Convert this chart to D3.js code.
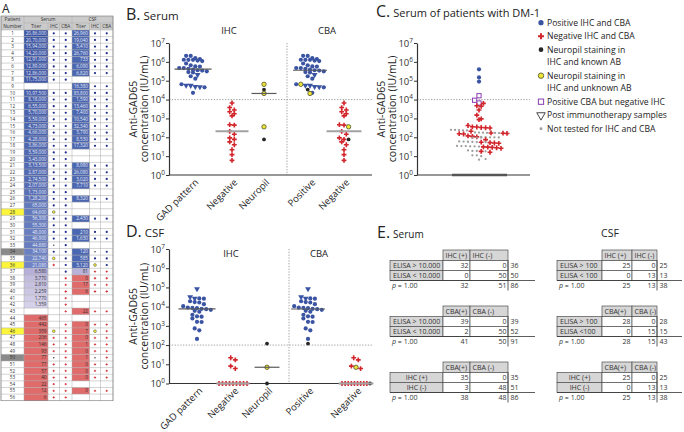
<!DOCTYPE html>
<html><head><meta charset="utf-8">
<script src="https://cdn.jsdelivr.net/npm/d3@7"></script>
<style>
body{margin:0;background:#fff;}
svg{display:block;}
</style></head><body>
<svg id="chart" width="684" height="432"></svg>
<script>
// ================= DATA =================
// Panel A table
const patientNumbers = [1,2,3,4,5,6,7,8,9,10,11,12,13,14,15,16,17,18,19,20,21,22,23,24,25,26,27,28,29,30,31,32,33,34,35,36,37,38,39,40,41,42,43,44,45,46,47,48,49,50,51,52,53,54,55,56];
const serumTiter = [2086000,2070000,1594000,1420000,1291000,1289000,1286000,1175000,null,1097500,818000,655000,570000,559000,473000,466000,428000,386000,359000,343000,313500,287000,274500,207000,173000,128200,65000,64600,56300,55300,48000,46900,44880,34100,22740,21080,6580,3770,2810,2259,1770,1359,null,465,442,359,206,146,93,77,77,57,40,22,12,6];
const csfTiter = [26960,19040,5410,26760,733,6090,6820,null,16380,83800,1590,13460,7400,10540,32340,3790,8530,17320,null,null,8980,26080,3020,7710,null,8320,null,null,2430,null,210,1630,null,120,585,3120,81,0,17,6,null,null,22,null,0,7,0,1,0,1,0,0,0,null,0,null];
// status codes: p positive, n negative, y neuropil unknown AB, k neuropil known AB, - not done
const serumIHC = "pppppppp-ppppppppppppppppppyppppkpyn---------ynnnknnnnnn".split("");
const serumCBA = "pppppppp-ppppppppppppppppppppppppppppnnnnnn-nnnnnnnnnnnnn".split("");
const csfIHC   = "ppppppp-pppppppppp--pppp-p--p-pp-kpynnnn--n-nynnnknnn-n-".split("");
const csfCBA   = "ppppppp-pppppppppp--pppp-p--p-pp-pppnnnn--n-nnnnnnnnn-n-".split("");
const rowsYellow = [28,36,46];
const rowsGray = [34,50];

// Panel B (serum)
const serumGadPattern = [2086000,2070000,1594000,1420000,1291000,1289000,1286000,1175000,1097500,818000,655000,570000,559000,473000,466000,428000,386000,359000,343000,313500,287000,274500,207000,173000,128200,65000,56300,55300,48000,46900,44880,22740];
const serumPostImmuno = [207000,56300,55300,48000,46900];
const serumNegative = [6580,3770,2810,2259,1770,1359,465,442,206,146,93,77,57,40,22,12,6];
const serumNeuropilUnknown = [64600,21080,359];
const serumNeuropilKnown = [34100,77];
const serumThreshold = 10000;

// Panel C (serum of DM-1 patients)
const dm1Positive = [400000,150000,90000];
const dm1CbaOnly = [16000,9200,6600];
const dm1Negative = [6300,4700,4400,2800,1500,950,870,420,360,350,330,320,310,210,170,165,160,155,150,118,112,105,75,55,52,50,48,31,30,29,28,26,18,16];
const dm1NotTested = [250,245,240,235,230,180,178,175,172,170,168,104,102,100,99,98,97,96,95,60,59,58,57,56,55,35,34,34,33,33,32,20,19,19,18,11,11,10,7,6.5];

// Panel D (CSF)
const csfGadPattern = [83800,32340,26960,26760,26080,19040,17320,16380,13460,10540,8980,8530,8320,7710,7400,6820,6090,5410,3790,3120,3020,2430,1630,1590,733,585,210];
const csfPostImmuno = [83800,32340,26960];
const csfNegative = [22,17,8,6,1,0,0,0,0,0,0,0,0];
const csfNeuropilUnknown = [7];
const csfNeuropilKnown = [120,1];
const csfThreshold = 100;

// Axis / category labels
const decades = [1,10,100,1000,10000,100000,1000000,10000000];
const categoryKeys = ["gad","ihcNeg","neuro","cbaPos","cbaNeg"];
const categoryLabels = ["GAD pattern","Negative","Neuropil","Positive","Negative"];

// Legend
const legendTypes = ["blue","red","black","yellow","purple","triOpen","gray"];
const legendLabels = [["Positive IHC and CBA"],["Negative IHC and CBA"],["Neuropil staining in","IHC and known AB"],["Neuropil staining in","IHC and unknown AB"],["Positive CBA but negative IHC"],["Post immunotherapy samples"],["Not tested for IHC and CBA"]];

// Panel E tables
const eSerumColHeads = [["IHC (+)","IHC (-)"],["CBA(+)","CBA (-)"],["CBA(+)","CBA (-)"]];
const eSerumRowHeads = [["ELISA > 10.000","ELISA < 10.000"],["ELISA > 10.000","ELISA < 10.000"],["IHC (+)","IHC (-)"]];
const eSerumCounts = [[[32,0],[0,50]],[[39,0],[2,50]],[[35,0],[3,48]]];
const eSerumRowTotals = [[36,50],[39,52],[35,51]];
const eSerumColTotals = [[32,51],[41,50],[38,48]];
const eSerumGrand = [86,91,86];
const eCsfColHeads = [["IHC (+)","IHC (-)"],["CBA(+)","CBA (-)"],["CBA(+)","CBA (-)"]];
const eCsfRowHeads = [["ELISA > 100","ELISA < 100"],["ELISA > 100","ELISA <100"],["IHC (+)","IHC (-)"]];
const eCsfCounts = [[[25,0],[0,13]],[[28,0],[0,15]],[[25,0],[0,13]]];
const eCsfRowTotals = [[25,13],[28,15],[25,13]];
const eCsfColTotals = [[25,13],[28,15],[25,13]];
const eCsfGrand = [38,43,38];
const ePValues = ["1.00","1.00","1.00"];

// ================= DRAWING =================
const FONT = '"Open Sans", sans-serif';
const BLUE = '#3a54a3', RED = '#d1262c', YEL = '#ece636', BLK = '#262626', PUR = '#8b3db3', GRY = '#9d9d9d';
const TXT = '#222';
const svg = d3.select('#chart').attr('font-family', FONT);

function mark(g, t, x, y, s) {
  s = s || 1;
  if (t === 'blue') g.append('circle').attr('cx', x).attr('cy', y).attr('r', 2.1 * s).attr('fill', BLUE);
  else if (t === 'tri') g.append('path').attr('d', d3.symbol(d3.symbolTriangle, 15 * s * s)()).attr('transform', `translate(${x},${y}) rotate(180)`).attr('fill', BLUE);
  else if (t === 'triOpen') g.append('path').attr('d', d3.symbol(d3.symbolTriangle, 20 * s * s)()).attr('transform', `translate(${x},${y}) rotate(180)`).attr('fill', '#fff').attr('stroke', '#333').attr('stroke-width', 0.9);
  else if (t === 'red') g.append('path').attr('d', d3.symbol(d3.symbolCross, 13 * s * s)()).attr('transform', `translate(${x},${y})`).attr('fill', RED);
  else if (t === 'yellow') g.append('circle').attr('cx', x).attr('cy', y).attr('r', 2.2 * s).attr('fill', YEL).attr('stroke', '#4a4628').attr('stroke-width', 0.75);
  else if (t === 'black') g.append('circle').attr('cx', x).attr('cy', y).attr('r', 1.9 * s).attr('fill', BLK);
  else if (t === 'purple') g.append('rect').attr('x', x - 2.1 * s).attr('y', y - 2.1 * s).attr('width', 4.2 * s).attr('height', 4.2 * s).attr('fill', '#fff').attr('stroke', PUR).attr('stroke-width', 1);
  else if (t === 'gray') g.append('circle').attr('cx', x).attr('cy', y).attr('r', 1.15 * s).attr('fill', GRY);
}

// Prism-like scatter layout: bin by vertical position, spread horizontally
function swarm(items, y, cx, binH, sp, maxW) {
  const pts = items.map(d => Object.assign({}, d, { py: y(Math.max(d.v, 1)) })).sort((a, b) => a.py - b.py);
  const bins = []; let cur = null;
  pts.forEach(p => { if (!cur || p.py - cur.y0 > binH) { cur = { y0: p.py, list: [] }; bins.push(cur); } cur.list.push(p); });
  bins.forEach(b => {
    const n = b.list.length; const s = n > 1 ? Math.min(sp, maxW / (n - 1)) : 0;
    b.list.forEach((p, i) => { p.px = cx + (i - (n - 1) / 2) * s; });
  });
  return pts;
}

function logAxis(g, y, axisX, xEnd) {
  const ax = d3.axisLeft(y).tickValues(decades).tickSize(3).tickSizeOuter(0).tickFormat(() => '');
  const a = g.append('g').attr('transform', `translate(${axisX},0)`).call(ax);
  a.select('.domain').attr('stroke', '#333').attr('stroke-width', 1.2);
  a.selectAll('.tick line').attr('stroke', '#333').attr('stroke-width', 1);
  a.selectAll('.tick').append('text').attr('x', -4).attr('dy', '0.35em').attr('text-anchor', 'end')
    .attr('fill', '#333').attr('font-size', 9.5).attr('font-family', FONT)
    .each(function (d) {
      const t = d3.select(this);
      t.append('tspan').text('10');
      t.append('tspan').attr('dy', -4).attr('font-size', 6.5).text(Math.round(Math.log10(d)));
    });
  g.append('line').attr('x1', axisX).attr('x2', xEnd).attr('y1', y(1)).attr('y2', y(1)).attr('stroke', '#333').attr('stroke-width', 1.2);
}

function yTitle(g, xA, xB, yc) {
  g.append('text').attr('transform', `translate(${xA},${yc}) rotate(-90)`).attr('text-anchor', 'middle').attr('font-size', 10.5).attr('fill', TXT).text('Anti-GAD65');
  g.append('text').attr('transform', `translate(${xB},${yc}) rotate(-90)`).attr('text-anchor', 'middle').attr('font-size', 10.5).attr('fill', TXT).text('concentration (IU/mL)');
}

function dotted(g, x1, y1, x2, y2) {
  g.append('line').attr('x1', x1).attr('y1', y1).attr('x2', x2).attr('y2', y2)
    .attr('stroke', '#8a8a8a').attr('stroke-width', 0.8).attr('stroke-dasharray', '1.3,1.5');
}

function scatterPanel(cfg) {
  const g = svg.append('g');
  const y = d3.scaleLog().domain([1, 1e7]).range([cfg.yBottom, cfg.yTop]);
  const x = d3.scaleOrdinal().domain(categoryKeys).range(cfg.xs);
  dotted(g, cfg.axisX, y(cfg.threshold), cfg.xEnd, y(cfg.threshold));
  dotted(g, cfg.divX, cfg.yTop, cfg.divX, cfg.yBottom);
  logAxis(g, y, cfg.axisX, cfg.xEnd);
  yTitle(g, cfg.axisX - 32, cfg.axisX - 21, (cfg.yTop + cfg.yBottom) / 2);
  g.append('text').attr('x', cfg.ihcX).attr('y', cfg.groupY).attr('text-anchor', 'middle').attr('font-size', 9.5).attr('fill', TXT).text('IHC');
  g.append('text').attr('x', cfg.cbaX).attr('y', cfg.groupY).attr('text-anchor', 'middle').attr('font-size', 9.5).attr('fill', TXT).text('CBA');
  categoryKeys.forEach((k, i) => {
    g.append('text').attr('transform', `translate(${x(k) + 6},${cfg.yBottom + 8}) rotate(-45)`)
      .attr('text-anchor', 'end').attr('font-size', 9.5).attr('fill', TXT).text(categoryLabels[i]);
  });
  const pts = g.append('g');
  cfg.groups.forEach(gr => {
    const laid = swarm(gr.items, y, x(gr.key), 3.7, 4.6, 28);
    laid.forEach(p => mark(pts, p.t, p.px, p.py));
  });
  cfg.groups.forEach(gr => {
    const med = d3.median(gr.items, d => Math.max(d.v, 1));
    const light = gr.med === 'light';
    g.append('line').attr('x1', x(gr.key) - gr.hw).attr('x2', x(gr.key) + gr.hw).attr('y1', y(med)).attr('y2', y(med))
      .attr('stroke', light ? '#a3a3a3' : '#5a5a5a').attr('stroke-width', light ? 2 : 1.2);
  });
}

function title(x, yb, big, small, smallSize) {
  const t = svg.append('text').attr('x', x).attr('y', yb).attr('fill', TXT);
  t.append('tspan').attr('font-size', 16).text(big);
  t.append('tspan').attr('font-size', smallSize || 11.5).attr('dx', 3).text(small);
}

function fmtIN(v) {
  const s = String(Math.round(v));
  if (s.length <= 3) return s;
  const last3 = s.slice(-3); let rest = s.slice(0, -3); const parts = [];
  while (rest.length > 2) { parts.unshift(rest.slice(-2)); rest = rest.slice(0, -2); }
  if (rest) parts.unshift(rest);
  return parts.join(',') + ',' + last3;
}

// ---------- Panel A ----------
(function () {
  const g = svg.append('g');
  g.append('text').attr('x', 2).attr('y', 13).attr('font-size', 12).attr('fill', TXT).text('A');
  const ce = [1, 24, 48, 59.5, 72, 89.5, 100.5, 113];
  const hTop = 16, hMid = 23, dTop = 30, rh = 6.62;
  const fs = 4.6;
  const hdrFill = '#cbcbcb';
  g.append('rect').attr('x', ce[0]).attr('y', hTop).attr('width', ce[7] - ce[0]).attr('height', dTop - hTop).attr('fill', hdrFill);
  const serumBlue = d3.scaleLog().domain([20000, 2100000]).range(['#7186c6', '#3b55a4']).clamp(true);
  const serumLav = d3.scaleLog().domain([1300, 6600]).range(['#d6d2ea', '#b6afd8']).clamp(true);
  const cellFill = (row, kind) => {
    if (kind === 'serum') return row <= 36 ? serumBlue(serumTiter[row - 1]) : row <= 42 ? serumLav(serumTiter[row - 1]) : '#df6b6b';
    return row <= 36 ? '#4c67b1' : row <= 37 ? '#b9b3da' : '#df6b6b';
  };
  patientNumbers.forEach((pn, i) => {
    const y0 = dTop + i * rh, yc = y0 + rh / 2;
    if (rowsYellow.includes(pn)) g.append('rect').attr('x', ce[0]).attr('y', y0).attr('width', ce[1] - ce[0]).attr('height', rh).attr('fill', '#fbf53c');
    if (rowsGray.includes(pn)) g.append('rect').attr('x', ce[0]).attr('y', y0).attr('width', ce[1] - ce[0]).attr('height', rh).attr('fill', '#8a8a8a');
    [[serumTiter, 1, 'serum'], [csfTiter, 4, 'csf']].forEach(([arr, c, kind]) => {
      const v = arr[i];
      if (v == null) return;
      const f = cellFill(pn, kind);
      g.append('rect').attr('x', ce[c]).attr('y', y0).attr('width', ce[c + 1] - ce[c]).attr('height', rh).attr('fill', f);
      g.append('text').attr('x', ce[c + 1] - 1.5).attr('y', yc).attr('dy', '0.35em').attr('text-anchor', 'end')
        .attr('font-size', fs).attr('fill', pn <= 36 ? '#e9ecf7' : '#333').text(fmtIN(v));
    });
    g.append('text').attr('x', (ce[0] + ce[1]) / 2).attr('y', yc).attr('dy', '0.35em').attr('text-anchor', 'middle')
      .attr('font-size', fs).attr('fill', '#333').text(pn);
    [[serumIHC, 2], [serumCBA, 3], [csfIHC, 5], [csfCBA, 6]].forEach(([arr, c]) => {
      const s = arr[i]; const cx = (ce[c] + ce[c + 1]) / 2;
      if (s === 'p') g.append('circle').attr('cx', cx).attr('cy', yc).attr('r', 1.1).attr('fill', '#1f2f8a');
      else if (s === 'n') g.append('path').attr('d', d3.symbol(d3.symbolCross, 3)()).attr('transform', `translate(${cx},${yc})`).attr('fill', RED);
      else if (s === 'y') g.append('circle').attr('cx', cx).attr('cy', yc).attr('r', 1.4).attr('fill', YEL).attr('stroke', '#555').attr('stroke-width', 0.5);
      else if (s === 'k') g.append('circle').attr('cx', cx).attr('cy', yc).attr('r', 0.7).attr('fill', BLK);
    });
  });
  const dBottom = dTop + patientNumbers.length * rh;
  const gl = g.append('g').attr('stroke', '#a9a9a9').attr('stroke-width', 0.5);
  patientNumbers.forEach((pn, i) => { const yy = dTop + i * rh; gl.append('line').attr('x1', ce[0]).attr('x2', ce[7]).attr('y1', yy).attr('y2', yy); });
  gl.append('line').attr('x1', ce[1]).attr('x2', ce[7]).attr('y1', hMid).attr('y2', hMid);
  ce.forEach((xx, c) => {
    const top = (c === 2 || c === 3 || c === 5 || c === 6) ? hMid : hTop;
    gl.append('line').attr('x1', xx).attr('x2', xx).attr('y1', top).attr('y2', dBottom);
  });
  g.append('rect').attr('x', ce[0]).attr('y', hTop).attr('width', ce[7] - ce[0]).attr('height', dBottom - hTop).attr('fill', 'none').attr('stroke', '#777').attr('stroke-width', 0.6);
  const ht = (x, y, s) => g.append('text').attr('x', x).attr('y', y).attr('dy', '0.35em').attr('text-anchor', 'middle').attr('font-size', 4.8).attr('fill', '#333').text(s);
  ht((ce[0] + ce[1]) / 2, (hTop + hMid) / 2, 'Patient');
  ht((ce[0] + ce[1]) / 2, (hMid + dTop) / 2, 'Number');
  ht((ce[1] + ce[4]) / 2, (hTop + hMid) / 2, 'Serum');
  ht((ce[4] + ce[7]) / 2, (hTop + hMid) / 2, 'CSF');
  ['Titer', 'IHC', 'CBA', 'Titer', 'IHC', 'CBA'].forEach((s, k) => ht((ce[k + 1] + ce[k + 2]) / 2, (hMid + dTop) / 2, s));
})();

// ---------- Panel B ----------
title(126, 20, 'B.', 'Serum');
function buildGroups(gad, post, neg, nUnk, nKnown, thr) {
  const gadItems = gad.map(v => ({ v, t: post.includes(v) ? 'tri' : 'blue' }));
  const negItems = neg.map(v => ({ v, t: 'red' }));
  const neuroItems = nUnk.map(v => ({ v, t: 'yellow' })).concat(nKnown.map(v => ({ v, t: 'black' })));
  return [
    { key: 'gad', items: gadItems, med: 'dark', hw: 18.5 },
    { key: 'ihcNeg', items: negItems, med: 'light', hw: 16.5 },
    { key: 'neuro', items: neuroItems, med: 'dark', hw: 12.5 },
    { key: 'cbaPos', items: gadItems.concat(neuroItems.filter(d => d.v >= thr)), med: 'dark', hw: 17 },
    { key: 'cbaNeg', items: negItems.concat(neuroItems.filter(d => d.v < thr)), med: 'light', hw: 17.5 }
  ];
}
scatterPanel({
  yTop: 43, yBottom: 175, axisX: 169, xEnd: 372, divX: 287,
  xs: [193, 232, 264, 310, 344], threshold: serumThreshold,
  ihcX: 229, cbaX: 327, groupY: 34,
  groups: buildGroups(serumGadPattern, serumPostImmuno, serumNegative, serumNeuropilUnknown, serumNeuropilKnown, serumThreshold)
});

// ---------- Panel D ----------
title(126, 237, 'D.', 'CSF');
scatterPanel({
  yTop: 249, yBottom: 383.5, axisX: 169, xEnd: 373, divX: 289,
  xs: [197, 233, 267, 308, 356], threshold: csfThreshold,
  ihcX: 231, cbaX: 319, groupY: 257,
  groups: buildGroups(csfGadPattern, csfPostImmuno, csfNegative, csfNeuropilUnknown, csfNeuropilKnown, csfThreshold)
});

// ---------- Panel C ----------
title(376, 17, 'C.', 'Serum of patients with DM-1', 11);
(function () {
  const g = svg.append('g');
  const y = d3.scaleLog().domain([1, 1e7]).range([175, 43]);
  const x = d3.scalePoint().domain(['DM-1']).range([428, 530]);
  const axisX = 417, xEnd = 530;
  dotted(g, axisX, y(serumThreshold), xEnd, y(serumThreshold));
  logAxis(g, y, axisX, xEnd);
  yTitle(g, axisX - 32, axisX - 21, 109);
  const items = dm1Positive.map(v => ({ v, t: 'blue' }))
    .concat(dm1CbaOnly.map(v => ({ v, t: 'purple' })))
    .concat(dm1Negative.map(v => ({ v, t: 'red' })))
    .concat(dm1NotTested.map(v => ({ v, t: 'gray' })));
  const laid = swarm(items, y, x('DM-1'), 3.8, 4.4, 56);
  laid.forEach(p => mark(g, p.t, p.px, p.py));
  g.append('line').attr('x1', x('DM-1') - 27).attr('x2', x('DM-1') + 28).attr('y1', y(1)).attr('y2', y(1)).attr('stroke', '#555').attr('stroke-width', 2.4);
})();

// ---------- Legend ----------
(function () {
  const g = svg.append('g');
  let yy = 22.7;
  legendTypes.forEach((t, i) => {
    mark(g, t, 541, yy, 1.25);
    legendLabels[i].forEach((line, j) => {
      g.append('text').attr('x', 547).attr('y', yy + j * 11.8).attr('dy', '0.35em').attr('font-size', 8.6).attr('fill', TXT).text(line);
    });
    yy += legendLabels[i].length > 1 ? 26 : 13.5;
  });
})();

// ---------- Panel E ----------
title(377, 238, 'E.', 'Serum', 10);
svg.append('text').attr('x', 610).attr('y', 237).attr('text-anchor', 'middle').attr('font-size', 10.5).attr('fill', TXT).text('CSF');
function ctable(y0, cols, colHeads, rowHeads, counts, rowTot, colTot, grand, p, lineEnd, centerRows) {
  const g = svg.append('g').attr('font-size', 7).attr('fill', '#333');
  const hh = 10.5, rh = 10;
  const cellFill = '#d6d6d6', st = '#4d4d4d';
  colHeads.forEach((h, k) => {
    g.append('rect').attr('x', cols[k + 1]).attr('y', y0).attr('width', cols[k + 2] - cols[k + 1]).attr('height', hh).attr('fill', cellFill).attr('stroke', st).attr('stroke-width', 0.7);
    g.append('text').attr('x', cols[k + 1] + 2.5).attr('y', y0 + hh / 2).attr('dy', '0.35em').text(h);
  });
  rowHeads.forEach((r, k) => {
    const ry = y0 + hh + k * rh;
    g.append('rect').attr('x', cols[0]).attr('y', ry).attr('width', cols[1] - cols[0]).attr('height', rh).attr('fill', cellFill).attr('stroke', st).attr('stroke-width', 0.7);
    g.append('text').attr('x', centerRows ? (cols[0] + cols[1]) / 2 : cols[0] + 3).attr('text-anchor', centerRows ? 'middle' : 'start').attr('y', ry + rh / 2).attr('dy', '0.35em').text(r);
    counts[k].forEach((v, c) => {
      g.append('rect').attr('x', cols[c + 1]).attr('y', ry).attr('width', cols[c + 2] - cols[c + 1]).attr('height', rh).attr('fill', '#fff').attr('stroke', st).attr('stroke-width', 0.7);
      g.append('text').attr('x', cols[c + 2] - 1.5).attr('y', ry + rh / 2).attr('dy', '0.35em').attr('text-anchor', 'end').text(v);
    });
    g.append('text').attr('x', cols[3] + 2.5).attr('y', ry + rh / 2).attr('dy', '0.35em').text(rowTot[k]);
  });
  const by = y0 + hh + 2 * rh;
  g.append('line').attr('x1', cols[0]).attr('x2', lineEnd).attr('y1', by).attr('y2', by).attr('stroke', '#333').attr('stroke-width', 0.8);
  g.append('line').attr('x1', cols[3]).attr('x2', cols[3]).attr('y1', y0 + hh).attr('y2', by + rh).attr('stroke', '#333').attr('stroke-width', 0.8);
  const pt = g.append('text').attr('x', cols[0] + 2).attr('y', by + rh / 2 + 0.5).attr('dy', '0.35em');
  pt.append('tspan').attr('font-style', 'italic').text('p');
  pt.append('tspan').text(' = ' + p);
  colTot.forEach((v, c) => g.append('text').attr('x', cols[c + 2] - 1.5).attr('y', by + rh / 2 + 0.5).attr('dy', '0.35em').attr('text-anchor', 'end').text(v));
  g.append('text').attr('x', cols[3] + 2.5).attr('y', by + rh / 2 + 0.5).attr('dy', '0.35em').text(grand);
}
[250, 306, 362].forEach((y0, k) => {
  ctable(y0, [390, 443, 470, 508], eSerumColHeads[k], eSerumRowHeads[k], eSerumCounts[k], eSerumRowTotals[k], eSerumColTotals[k], eSerumGrand[k], ePValues[k], 535, k === 2);
  ctable(y0, [557, 602, 632, 657], eCsfColHeads[k], eCsfRowHeads[k], eCsfCounts[k], eCsfRowTotals[k], eCsfColTotals[k], eCsfGrand[k], ePValues[k], 682, k === 2);
});
</script>
</body></html>
